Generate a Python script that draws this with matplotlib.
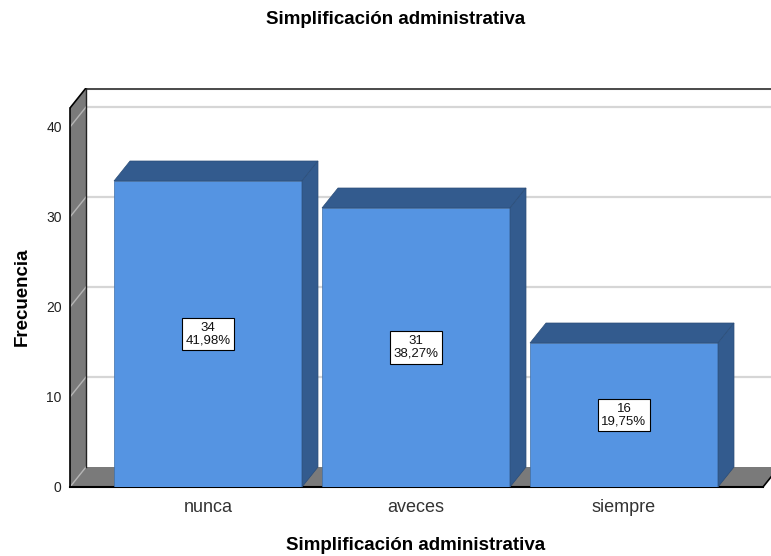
import matplotlib
matplotlib.use('Agg')
import matplotlib.pyplot as plt
from matplotlib.patches import Polygon, Rectangle

# ---- data ----
categories = ['nunca', 'aveces', 'siempre']
counts = [34, 31, 16]
yticks = [0, 10, 20, 30, 40]
title = 'Simplificación administrativa'
xlabel = 'Simplificación administrativa'
ylabel = 'Frecuencia'

total = sum(counts)
percents = [f'{100 * c / total:.2f}%'.replace('.', ',') for c in counts]

plt.rcParams['font.family'] = ['Liberation Sans', 'DejaVu Sans']

W, H = 771, 556
fig = plt.figure(figsize=(W / 100, H / 100), dpi=100)
ax = fig.add_axes([70 / W, (H - 487) / H, (771 - 70) / W, (487 - 88) / H])

px_per_unit = 9.0
step = 208.0
ymax = (487 - 88) / px_per_unit
xlim = ((70 - 208) / step, (771 - 208) / step)
ax.set_xlim(*xlim)
ax.set_ylim(0, ymax)

dx = 16 / step
dy = 20 / px_per_unit
wall_top = ymax - dy
x0 = xlim[0]
floor_right = (763 - 208) / step
bw = 188 / step

front_col = '#5594E2'
dark_col = '#335B8E'
wall_col = '#7A7A7A'
grid_col = '#D6D6D6'

# back wall gridlines
for t in yticks[1:]:
    ax.plot([x0 + dx, xlim[1]], [t + dy, t + dy], color=grid_col, lw=1.6, zorder=1,
            solid_capstyle='butt')
# back wall top border
ax.plot([x0 + dx, xlim[1]], [wall_top + dy, wall_top + dy], color='#4D4D4D', lw=2.2,
        zorder=1.1, solid_capstyle='butt')

# floor
ax.add_patch(Polygon([(x0, 0), (floor_right, 0), (floor_right + dx, dy), (x0 + dx, dy)],
                     closed=True, fc=wall_col, ec='none', zorder=1.2))
ax.plot([floor_right, floor_right + dx], [0, dy], color='black', lw=1.2, zorder=1.25)

# left wall
ax.add_patch(Polygon([(x0, 0), (x0, wall_top), (x0 + dx, wall_top + dy), (x0 + dx, dy)],
                     closed=True, fc=wall_col, ec='none', zorder=1.3))
for t in yticks:
    ax.plot([x0, x0 + dx], [t, t + dy], color='#B5B5B5', lw=1.0, zorder=1.4)
ax.plot([x0, x0 + dx], [wall_top, wall_top + dy], color='black', lw=1.2, zorder=1.45)
ax.plot([x0 + dx, x0 + dx], [dy, wall_top + dy], color='#222222', lw=1.0, zorder=1.45)

# bars
for i, (v, pct) in enumerate(zip(counts, percents)):
    l, r = i - bw / 2, i + bw / 2
    ax.add_patch(Rectangle((l, 0), bw, v, fc=front_col, ec='#3F6FA8', lw=0.5, zorder=5))
    ax.add_patch(Polygon([(l, v), (r, v), (r + dx, v + dy), (l + dx, v + dy)],
                         closed=True, fc=dark_col, ec='#2B4D78', lw=0.5, zorder=5))
    ax.add_patch(Polygon([(r, 0), (r, v), (r + dx, v + dy), (r + dx, dy)],
                         closed=True, fc=dark_col, ec='#2B4D78', lw=0.5, zorder=5))
    ax.text(i, v / 2, f'{v}\n{pct}', ha='center', va='center', fontsize=9.5,
            linespacing=1.1, zorder=6, color='#111111',
            bbox=dict(boxstyle='square,pad=0.28', fc='white', ec='black', lw=0.8))

# axes styling
for s in ['top', 'right']:
    ax.spines[s].set_visible(False)
ax.spines['left'].set_bounds(0, wall_top)
ax.spines['left'].set_color('black')
ax.spines['left'].set_linewidth(1.2)
ax.spines['bottom'].set_bounds(x0, floor_right)
ax.spines['bottom'].set_color('black')
ax.spines['bottom'].set_linewidth(1.5)
ax.patch.set_facecolor('white')

ax.set_yticks(yticks)
ax.set_yticklabels([str(t) for t in yticks])
ax.set_xticks(range(len(categories)))
ax.set_xticklabels(categories)
ax.tick_params(axis='y', length=0, pad=6, labelsize=10, colors='#222222')
ax.tick_params(axis='x', length=0, pad=9, labelsize=13, colors='#333333')

fig.text(396 / W, 1 - 20 / H, title, ha='center', va='center', fontsize=13.5,
         fontweight='bold', color='black')
fig.text(416 / W, 1 - 546 / H, xlabel, ha='center', va='center', fontsize=13.5,
         fontweight='bold', color='black')
fig.text(22 / W, 1 - 297 / H, ylabel, ha='center', va='center', fontsize=13.5,
         fontweight='bold', rotation=90, color='black')

fig.savefig('out.png', dpi=100)
